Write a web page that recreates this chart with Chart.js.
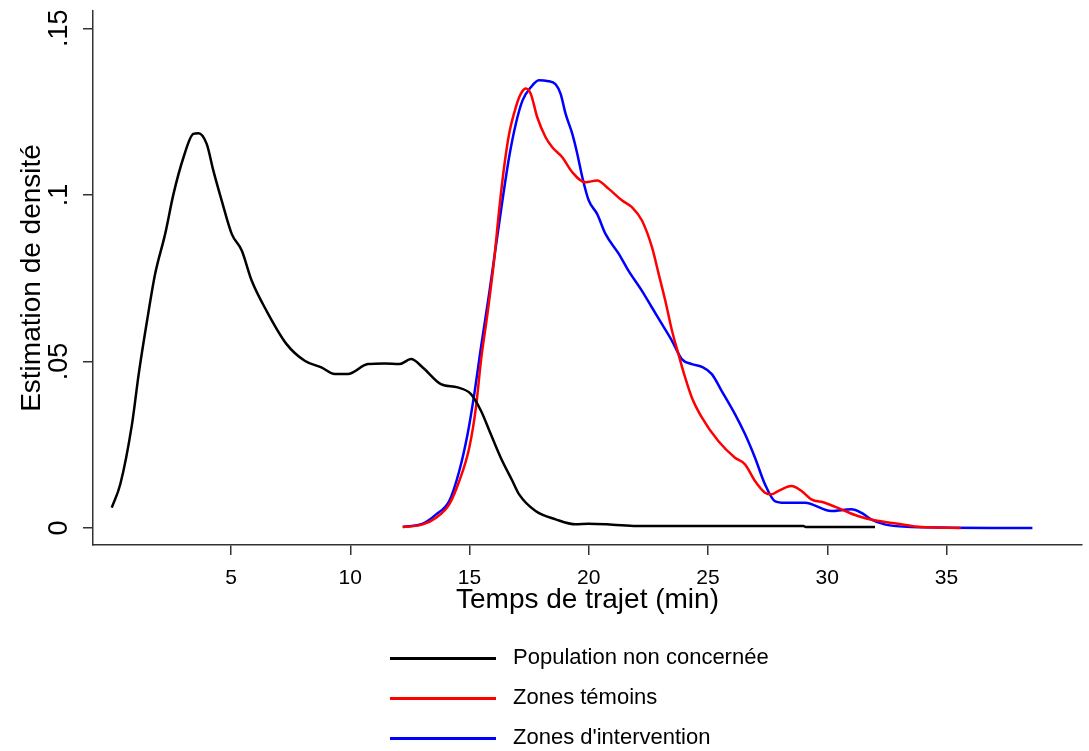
<!DOCTYPE html>
<html>
<head>
<meta charset="utf-8">
<script src="https://cdn.jsdelivr.net/npm/chart.js@4.4.1/dist/chart.umd.min.js"></script>
<style>
  html, body { margin: 0; padding: 0; background: #fff; }
  #wrap { position: relative; width: 1089px; height: 751px; }
  #legend { position: absolute; left: 390px; top: 638px; font-family: "Liberation Sans", Arial, sans-serif; font-size: 22px; color: #000; }
  .row { position: relative; height: 40px; }
  .swatch { position: absolute; left: 0; top: 19px; width: 106px; height: 3px; }
  .label { position: absolute; left: 123px; top: 6px; white-space: nowrap; line-height: 26px; }
</style>
</head>
<body>
<div id="wrap">
  <canvas id="chart" width="1089" height="751"></canvas>
  <div id="legend"></div>
</div>
<script>
// axes
const xTicks = [5, 10, 15, 20, 25, 30, 35];
const yTicks = [0, 0.05, 0.1, 0.15];
const yTickLabels = ["0", ".05", ".1", ".15"];

const seriesNames = ["Population non concernée", "Zones témoins", "Zones d'intervention"];
const seriesColors = ["#000000", "#ff0000", "#0000ff"];

// Population non concernée
const blackX = [0.0, 0.36, 0.85, 1.13, 1.48, 1.82, 2.24, 2.59, 3.01, 3.42, 3.63, 3.98, 4.26, 4.61, 5.03, 5.45, 5.87, 6.49, 7.33, 8.09, 8.79, 9.35, 9.90, 10.74, 11.44, 12.06, 12.55, 13.04, 13.80, 14.50, 15.06, 15.48, 15.89, 16.31, 16.80, 17.08, 17.77, 18.61, 19.45, 20.0, 21.0, 22.0, 25.0, 29.0, 29.1, 32.0];
const blackY = [0.0061, 0.0132, 0.0312, 0.0462, 0.0622, 0.0763, 0.0883, 0.1003, 0.1113, 0.1183, 0.1185, 0.1153, 0.1073, 0.0983, 0.0883, 0.0833, 0.0742, 0.0652, 0.0552, 0.0502, 0.0482, 0.0462, 0.0462, 0.0492, 0.0494, 0.0492, 0.0507, 0.0482, 0.0432, 0.0422, 0.0402, 0.0352, 0.0282, 0.0211, 0.0141, 0.0101, 0.0051, 0.0026, 0.0011, 0.0013, 0.0010, 0.0006, 0.0006, 0.0006, 0.0003, 0.0003];

// Zones témoins
const redX = [12.2, 13.04, 13.6, 14.15, 14.57, 14.99, 15.27, 15.48, 15.75, 16.03, 16.24, 16.45, 16.66, 16.94, 17.15, 17.36, 17.57, 17.84, 18.19, 18.47, 18.89, 19.31, 19.86, 20.35, 20.84, 21.40, 21.81, 22.23, 22.65, 22.93, 23.21, 23.49, 23.76, 24.04, 24.32, 24.74, 25.43, 26.13, 26.55, 26.97, 27.39, 27.66, 27.94, 28.5, 28.92, 29.33, 29.89, 30.59, 31.28, 31.98, 32.96, 33.94, 35.6];
const redY = [0.0003, 0.0011, 0.0031, 0.0071, 0.0141, 0.0241, 0.0362, 0.0502, 0.0642, 0.0803, 0.0953, 0.1083, 0.1183, 0.1263, 0.1303, 0.1319, 0.1303, 0.1233, 0.1173, 0.1143, 0.1113, 0.1068, 0.1038, 0.1043, 0.1018, 0.0983, 0.0963, 0.0923, 0.0843, 0.0763, 0.0682, 0.0592, 0.0522, 0.0452, 0.0392, 0.0332, 0.0261, 0.0211, 0.0191, 0.0141, 0.0106, 0.0101, 0.0111, 0.0126, 0.0111, 0.0086, 0.0076, 0.0056, 0.0036, 0.0023, 0.0013, 0.0003, 0.0];

// Zones d'intervention
const blueX = [12.2, 13.04, 13.6, 14.15, 14.57, 14.92, 15.2, 15.48, 15.82, 16.1, 16.38, 16.66, 16.94, 17.22, 17.57, 17.91, 18.26, 18.61, 18.82, 19.03, 19.31, 19.52, 19.73, 20.0, 20.35, 20.70, 21.26, 21.67, 22.23, 22.65, 23.07, 23.49, 23.9, 24.32, 24.74, 25.16, 25.57, 26.13, 26.55, 26.97, 27.39, 27.8, 28.22, 29.06, 30.17, 31.01, 31.42, 31.84, 32.40, 33.51, 38.6];
const blueY = [0.0003, 0.0013, 0.0041, 0.0081, 0.0171, 0.0282, 0.0402, 0.0542, 0.0702, 0.0843, 0.0983, 0.1113, 0.1213, 0.1283, 0.1323, 0.1344, 0.1342, 0.1332, 0.1303, 0.1243, 0.1183, 0.1123, 0.1053, 0.0983, 0.0943, 0.0883, 0.0823, 0.0772, 0.0712, 0.0662, 0.0612, 0.0562, 0.0507, 0.0492, 0.0484, 0.0462, 0.0412, 0.0342, 0.0282, 0.0211, 0.0131, 0.0081, 0.0076, 0.0076, 0.0051, 0.0056, 0.0046, 0.0026, 0.0011, 0.0003, 0.0];

const FONT = "'Liberation Sans', Arial, sans-serif";

function toPoints(xs, ys) {
    return xs.map((x, i) => ({ x: x, y: ys[i] }));
}

const allSeries = [[blackX, blackY], [redX, redY], [blueX, blueY]];

const datasets = allSeries.map((s, i) => ({
    label: seriesNames[i],
    data: toPoints(s[0], s[1]),
    borderColor: seriesColors[i],
    borderWidth: 2.5,
    pointRadius: 0,
    fill: false,
    cubicInterpolationMode: "monotone"
}));

// legend en HTML, empilée verticalement comme dans Stata
const legendEl = document.getElementById("legend");
seriesNames.forEach((name, i) => {
    const row = document.createElement("div");
    row.className = "row";
    row.innerHTML = `<div class="swatch" style="background:${seriesColors[i]}"></div><div class="label"></div>`;
    row.querySelector(".label").textContent = name;
    legendEl.appendChild(row);
});

new Chart(document.getElementById("chart"), {
    type: "line",
    data: { datasets },
    options: {
        responsive: false,
        animation: false,
        devicePixelRatio: 1,
        layout: { padding: { top: 11, right: 7, bottom: 134, left: 0 } },
        plugins: {
            legend: { display: false },
            tooltip: { enabled: false }
        },
        scales: {
            x: {
                type: "linear",
                min: -0.786,
                max: 40.68,
                afterBuildTicks: (scale) => { scale.ticks = xTicks.map(v => ({ value: v })); },
                afterFit: (scale) => { scale.height = 72; scale.paddingLeft = 0; scale.paddingRight = 0; },
                ticks: {
                    color: "#000",
                    font: { family: FONT, size: 21 },
                    padding: 11,
                    maxRotation: 0,
                    autoSkip: false
                },
                grid: { display: true, drawOnChartArea: false, drawTicks: true, tickLength: 10, color: "#333", lineWidth: 1.5 },
                border: { display: true, color: "#333", width: 1.5 },
                title: { display: true, text: "Temps de trajet (min)", color: "#000", font: { family: FONT, size: 28 }, padding: 0 }
            },
            y: {
                type: "linear",
                min: -0.0051,
                max: 0.1552,
                afterBuildTicks: (scale) => { scale.ticks = yTicks.map(v => ({ value: v })); },
                afterFit: (scale) => { scale.width = 93; scale.paddingTop = 0; scale.paddingBottom = 0; },
                ticks: {
                    color: "#000",
                    font: { family: FONT, size: 27 },
                    minRotation: 90,
                    maxRotation: 90,
                    crossAlign: "center",
                    padding: 5,
                    autoSkip: false,
                    callback: (value) => {
                        const i = yTicks.findIndex(t => Math.abs(t - value) < 1e-9);
                        return i >= 0 ? yTickLabels[i] : "";
                    }
                },
                grid: { display: true, drawOnChartArea: false, drawTicks: true, tickLength: 10, color: "#333", lineWidth: 1.5 },
                border: { display: true, color: "#333", width: 1.5 },
                title: { display: true, text: "Estimation de densité", color: "#000", font: { family: FONT, size: 28 }, padding: { top: 15, bottom: 0 } }
            }
        }
    }
});
</script>
</body>
</html>
